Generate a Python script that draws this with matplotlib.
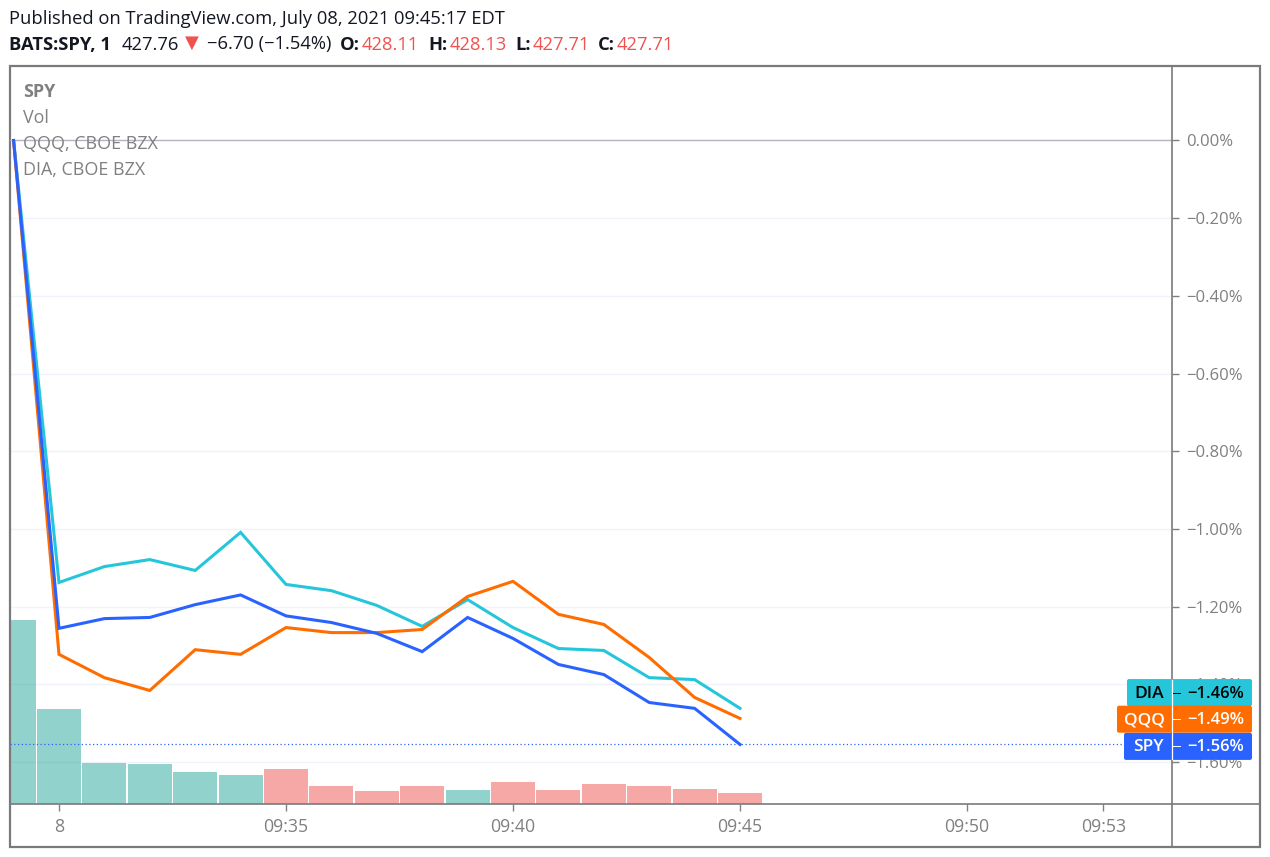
import matplotlib
matplotlib.use("Agg")
import matplotlib.pyplot as plt
from matplotlib.patches import FancyBboxPatch, Rectangle
from matplotlib.transforms import IdentityTransform

plt.rcParams['font.family'] = ['Open Sans', 'DejaVu Sans']

# minutes from 09:30, the first bar is 09:29
minutes = list(range(-1, 16))
spy = [0.0, -1.256, -1.231, -1.228, -1.195, -1.170, -1.224, -1.241, -1.269, -1.316, -1.228, -1.282, -1.349, -1.375, -1.447, -1.462, -1.555]
qqq = [0.0, -1.323, -1.383, -1.416, -1.311, -1.323, -1.254, -1.267, -1.267, -1.259, -1.174, -1.135, -1.220, -1.246, -1.331, -1.434, -1.488]
dia = [0.0, -1.138, -1.097, -1.079, -1.107, -1.009, -1.143, -1.159, -1.197, -1.251, -1.182, -1.254, -1.308, -1.313, -1.383, -1.388, -1.462]

# volume in thousands, green = 1 means up bar
volume = [920, 475, 205, 200, 160, 145, 175, 90, 65, 90, 70, 110, 70, 100, 90, 75, 55]
vol_up = [1, 1, 1, 1, 1, 1, 0, 0, 0, 0, 1, 0, 0, 0, 0, 0, 0]

y_ticks = [0.0, -0.2, -0.4, -0.6, -0.8, -1.0, -1.2, -1.4, -1.6]
y_labels = ["0.00%", "−0.20%", "−0.40%", "−0.60%", "−0.80%", "−1.00%", "−1.20%", "−1.40%", "−1.60%"]
x_ticks = [0, 5, 10, 15, 20, 23]
x_labels = ["8", "09:35", "09:40", "09:45", "09:50", "09:53"]

badge_names = ["DIA", "QQQ", "SPY"]
badge_values = [-1.46, -1.49, -1.56]
badge_text = ["−1.46%", "−1.49%", "−1.56%"]

BLUE = "#2962ff"
ORANGE = "#ff6d00"
CYAN = "#26c6da"
GREY = "#808080"
FRAME = "#7a7a7a"
W, H = 1270, 857


def fx(px):
    return px / W


def fy(py):
    return 1 - py / H


fig = plt.figure(figsize=(12.7, 8.57), dpi=100)

# main panel, pixels 10..1172 and 66..804
ax = fig.add_axes([fx(10), fy(804), fx(1162), 738 / H])
ax.set_xlim(-1.079, 24.515)
ax.set_ylim(-1.7083, 0.1918)

# volume shares the panel, on its own scale
ax_vol = ax.twinx()
ax_vol.set_ylim(0, 3690)
ax_vol.axis("off")
for t in y_ticks[1:]:
    ax_vol.plot([0, 1], [t, t], color="#f0f3fa", lw=1, transform=ax.get_yaxis_transform(), zorder=0)
bar_cols = ["#26a69a" if u else "#ef5350" for u in vol_up]
ax_vol.bar(minutes, volume, width=0.97, color=bar_cols, alpha=0.5, linewidth=0, zorder=1)
ax_vol.patch.set_visible(False)

ax.set_zorder(ax_vol.get_zorder() + 1)
ax.patch.set_visible(False)

ax.axhline(0, color="#b2b5be", lw=1, zorder=1)
ax.axhline(spy[-1], color=BLUE, lw=0.9, ls=(0, (1, 2)), zorder=1)

ax.plot(minutes, dia, color=CYAN, lw=2.2, zorder=3, solid_joinstyle="miter")
ax.plot(minutes, qqq, color=ORANGE, lw=2.2, zorder=4, solid_joinstyle="miter")
ax.plot(minutes, spy, color=BLUE, lw=2.2, zorder=5, solid_joinstyle="miter")

ax.yaxis.tick_right()
ax.set_yticks(y_ticks)
ax.set_yticklabels(y_labels)
ax.set_xticks(x_ticks)
ax.set_xticklabels(x_labels)
ax.tick_params(axis="both", color=GREY, labelcolor=GREY, length=5, width=1)
ax.tick_params(axis="x", pad=5, labelsize=12.8)
ax.tick_params(axis="y", pad=5.4, labelsize=12)
for name, sp in ax.spines.items():
    sp.set_visible(name in ("bottom", "right"))
    sp.set_color(FRAME)
    sp.set_linewidth(1.2)
for sp in ax_vol.spines.values():
    sp.set_visible(False)

# outer frame and the axis lines running out to it
fig.add_artist(Rectangle((fx(10), fy(846.5)), fx(1250), 780.5 / H, fill=False, ec=FRAME, lw=1.6,
                         transform=fig.transFigure))
fig.add_artist(plt.Line2D([fx(1172), fx(1172)], [fy(804), fy(847)], color=FRAME, lw=1.2))
fig.add_artist(plt.Line2D([fx(1172), fx(1260)], [fy(804), fy(804)], color=FRAME, lw=1.2))

# header
fig.text(fx(9), fy(19.5), "Published on TradingView.com, July 08, 2021 09:45:17 EDT", fontsize=13.2,
         color="#131722", va="center")
head = [
    (9, "BATS:SPY, 1", "bold", "#131722"),
    (122, "427.76", "normal", "#131722"),
    (207, "−6.70 (−1.54%)", "normal", "#131722"),
    (340, "O:", "bold", "#131722"),
    (362, "428.11", "normal", "#ef5350"),
    (428, "H:", "bold", "#131722"),
    (450, "428.13", "normal", "#ef5350"),
    (515, "L:", "bold", "#131722"),
    (533, "427.71", "normal", "#ef5350"),
    (598, "C:", "bold", "#131722"),
    (617, "427.71", "normal", "#ef5350"),
]
for px, s, weight, col in head:
    fig.text(fx(px), fy(44.5), s, fontsize=13.2, fontweight=weight, color=col, va="center")
fig.text(fx(192), fy(43), "▼", fontsize=13, color="#ef5350", va="center", ha="center", family="DejaVu Sans")

# legend block in the panel
legend = [(92, "SPY", "bold"), (118, "Vol", "normal"), (144, "QQQ, CBOE BZX", "normal"), (170, "DIA, CBOE BZX", "normal")]
for py, s, weight in legend:
    fig.text(fx(23), fy(py), s, fontsize=12.9, fontweight=weight, color=GREY, va="center")

# price badges, DIA is pushed up so it does not overlap
badge_left = [1127, 1117, 1124]
badge_cols = [CYAN, ORANGE, BLUE]
badge_txt = ["#000000", "#ffffff", "#ffffff"]
badge_shift = [15, 0, 0]
fig.canvas.draw()
for i in range(3):
    yc = ax.transData.transform((0, badge_values[i]))[1] + badge_shift[i]
    fig.add_artist(FancyBboxPatch((badge_left[i] + 2, yc - 11.5), 1252 - badge_left[i] - 4, 23,
                                  boxstyle="round,pad=2", fc=badge_cols[i], ec="none",
                                  transform=IdentityTransform(), zorder=10 + i))
    fig.add_artist(plt.Line2D([1172, 1172], [yc - 13, yc + 13], color="white", lw=0.9,
                              transform=IdentityTransform(), zorder=10 + i))
    fig.add_artist(plt.Line2D([1173, 1180], [yc, yc], color=badge_txt[i], lw=0.7,
                              transform=IdentityTransform(), zorder=10 + i))
    name_x = (badge_left[i] + 1172) / 2
    fig.text(name_x / W, (yc - 1) / H, badge_names[i], fontsize=12.5, fontweight="semibold", color=badge_txt[i],
             ha="center", va="center", zorder=13)
    fig.text(1244 / W, (yc - 1) / H, badge_text[i], fontsize=12, fontweight="semibold", color=badge_txt[i],
             ha="right", va="center", zorder=13)

fig.savefig("out.png", dpi=100)
